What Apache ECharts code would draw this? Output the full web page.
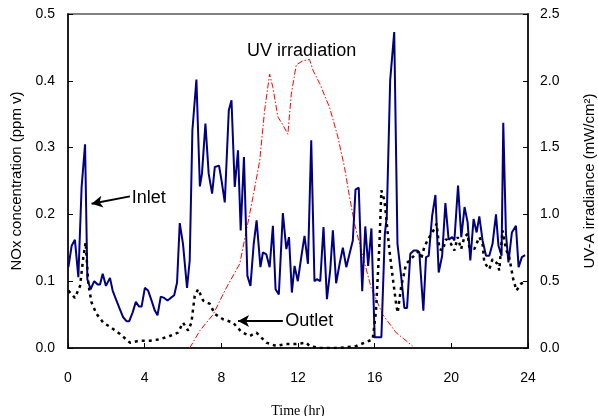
<!DOCTYPE html>
<html>
<head>
<meta charset="utf-8">
<script src="https://cdn.jsdelivr.net/npm/echarts@6/dist/echarts.min.js"></script>
<style>html,body{margin:0;padding:0;background:#fff}#c{width:598px;height:416px}</style>
</head>
<body>
<div id="c"></div>
<script>
// Time (hr) and NOx (ppm v) of the inlet
var inletT = [0.02,0.19,0.36,0.54,0.71,0.89,1.01,1.18,1.37,1.55,1.67,1.81,1.98,2.19,2.33,2.5,2.71,2.88,3.06,3.19,3.37,3.54,3.71,3.84,4.01,4.18,4.36,4.53,4.67,4.84,5.02,5.19,5.36,5.54,5.69,5.83,6.0,6.21,6.35,6.49,6.70,6.88,6.99,7.17,7.34,7.52,7.66,7.88,8.01,8.18,8.39,8.53,8.70,8.87,9.01,9.18,9.36,9.52,9.69,9.84,10.04,10.17,10.35,10.52,10.69,10.83,11.0,11.21,11.39,11.53,11.68,11.82,11.99,12.17,12.34,12.52,12.69,12.86,12.98,13.16,13.33,13.51,13.68,13.82,13.99,14.17,14.34,14.52,14.69,14.86,15.0,15.17,15.35,15.51,15.66,15.83,16.0,16.18,16.35,16.53,16.63,16.81,17.02,17.19,17.38,17.55,17.69,17.86,18.04,18.21,18.33,18.54,18.68,18.82,19.0,19.17,19.34,19.52,19.69,19.86,20.04,20.16,20.35,20.52,20.69,20.85,20.99,21.16,21.32,21.46,21.63,21.81,21.98,22.15,22.33,22.46,22.62,22.71,22.85,22.98,23.16,23.37,23.51,23.68,23.85];
var inletV = [0.121,0.153,0.162,0.106,0.241,0.305,0.103,0.088,0.100,0.095,0.095,0.111,0.093,0.105,0.086,0.073,0.058,0.046,0.040,0.040,0.053,0.069,0.062,0.062,0.090,0.086,0.071,0.056,0.049,0.077,0.075,0.071,0.075,0.079,0.098,0.187,0.156,0.090,0.131,0.326,0.402,0.242,0.261,0.336,0.261,0.231,0.271,0.273,0.251,0.218,0.356,0.371,0.241,0.296,0.176,0.286,0.108,0.093,0.156,0.191,0.121,0.143,0.140,0.121,0.183,0.088,0.080,0.202,0.148,0.166,0.083,0.123,0.100,0.136,0.168,0.126,0.311,0.100,0.103,0.100,0.181,0.073,0.116,0.176,0.097,0.126,0.150,0.121,0.141,0.161,0.237,0.240,0.085,0.182,0.123,0.179,0.016,0.016,0.016,0.171,0.196,0.401,0.473,0.156,0.108,0.060,0.060,0.141,0.146,0.146,0.143,0.056,0.136,0.138,0.198,0.229,0.113,0.138,0.217,0.162,0.166,0.161,0.243,0.166,0.211,0.188,0.131,0.193,0.173,0.197,0.161,0.138,0.138,0.156,0.200,0.153,0.138,0.337,0.171,0.128,0.173,0.183,0.121,0.136,0.139];

// Outlet NOx (ppm v)
var outletT = [0.02,0.36,0.63,0.8,0.92,1.06,1.23,1.49,1.84,2.28,2.71,3.23,3.75,4.27,4.79,5.31,5.74,6.0,6.27,6.44,6.61,6.79,7.05,7.4,7.66,8.09,8.61,9.05,9.48,9.83,10.35,10.87,11.39,11.91,12.43,12.6,13.13,14.17,15.04,15.9,16.07,16.25,16.35,16.51,16.6,16.77,16.94,17.12,17.2,17.38,17.64,17.98,18.33,18.42,18.59,18.77,19.11,19.23,19.38,19.55,19.72,19.98,20.16,20.33,20.51,20.68,20.85,20.94,21.2,21.46,21.63,21.72,21.98,22.15,22.41,22.5,22.67,22.85,23.02,23.23,23.4,23.63,23.85];
var outletV = [0.086,0.075,0.093,0.136,0.158,0.096,0.068,0.051,0.038,0.030,0.021,0.008,0.011,0.011,0.013,0.018,0.023,0.038,0.026,0.038,0.078,0.088,0.071,0.066,0.051,0.043,0.038,0.024,0.018,0.023,0.008,0.003,0.006,0.006,0.008,0.003,0.0,0.0,0.003,0.013,0.056,0.156,0.236,0.221,0.196,0.146,0.106,0.066,0.053,0.091,0.126,0.136,0.146,0.133,0.151,0.162,0.178,0.186,0.148,0.146,0.163,0.156,0.146,0.166,0.148,0.166,0.171,0.151,0.148,0.166,0.156,0.128,0.118,0.133,0.126,0.116,0.176,0.148,0.136,0.103,0.086,0.096,0.100];

// UV-A irradiance (mW/cm2)
var uvT = [6.35,6.88,7.57,8.26,8.96,9.31,9.65,10.0,10.26,10.52,10.69,10.95,11.21,11.47,11.65,11.91,12.26,12.6,12.78,13.13,13.65,14.08,14.43,14.69,14.95,15.3,15.82,16.42,17.12,17.98];
var uvV = [0,0.13,0.25,0.45,0.63,0.88,1.13,1.40,1.78,2.05,1.95,1.73,1.67,1.60,1.90,2.12,2.15,2.16,2.08,1.98,1.80,1.58,1.35,1.13,0.93,0.73,0.45,0.25,0.115,0.015];

var xTicks = [0,4,8,12,16,20,24];
var leftTicks = [0.0,0.1,0.2,0.3,0.4,0.5];
var rightTicks = [0.0,0.5,1.0,1.5,2.0,2.5];

function pairs(t, v){ return t.map(function(x,i){ return [x, v[i]]; }); }

var FONT = '"Liberation Sans", Arial, sans-serif';
var chart = echarts.init(document.getElementById('c'), null, {renderer:'canvas'});

var option = {
  animation: false,
  backgroundColor: '#fff',
  grid: { left: 68, right: 70, top: 14, bottom: 68, show: true, borderColor: '#808080', borderWidth: 2,
          containLabel: false, outerBoundsMode: 'none' },
  xAxis: {
    type: 'value', min: xTicks[0], max: xTicks[xTicks.length-1], interval: 4,
    name: 'Time (hr)', nameLocation: 'middle', nameGap: 56,
    nameTextStyle: { fontFamily: '"Liberation Serif", "Times New Roman", serif', fontSize: 14, color: '#000' },
    axisLine: { lineStyle: { color: '#000', width: 1.5 } },
    axisTick: { inside: true, length: 5, lineStyle: { color: '#000' } },
    axisLabel: { margin: 23, fontFamily: FONT, fontSize: 14, color: '#000' },
    splitLine: { show: false }
  },
  yAxis: [{
    type: 'value', min: leftTicks[0], max: leftTicks[leftTicks.length-1], interval: 0.1,
    name: 'NOx concentration (ppm v)', nameLocation: 'middle', nameGap: 37, nameRotate: 90,
    nameTextStyle: { fontFamily: FONT, fontSize: 15, color: '#000' },
    axisLine: { show: true, lineStyle: { color: '#000', width: 1.5 } },
    axisTick: { show: true, inside: true, length: 5, lineStyle: { color: '#000' } },
    axisLabel: { margin: 13, fontFamily: FONT, fontSize: 14, color: '#000', padding: [10,0,0,0],
      formatter: function(v){ return v.toFixed(1); } },
    splitLine: { show: false }
  }, {
    type: 'value', position: 'right', min: rightTicks[0], max: rightTicks[rightTicks.length-1], interval: 0.5,
    name: 'UV-A irradiance (mW/cm²)', nameLocation: 'middle', nameGap: 54, nameRotate: 90,
    nameTextStyle: { fontFamily: FONT, fontSize: 15, color: '#000' },
    axisLine: { show: true, lineStyle: { color: '#000', width: 1.5 } },
    axisTick: { show: true, inside: true, length: 5, lineStyle: { color: '#000' } },
    axisLabel: { margin: 12, fontFamily: FONT, fontSize: 14, color: '#000', padding: [9,0,0,0],
      formatter: function(v){ return v.toFixed(1); } },
    splitLine: { show: false }
  }],
  series: [{
    name: 'UV irradiation', type: 'line', yAxisIndex: 1, data: pairs(uvT, uvV),
    showSymbol: false, symbol: 'none',
    lineStyle: { color: '#ff0000', width: 1, type: [6,2,1.5,2] }, z: 2
  }, {
    name: 'Inlet', type: 'line', yAxisIndex: 0, data: pairs(inletT, inletV),
    showSymbol: false, symbol: 'none',
    lineStyle: { color: '#000080', width: 2 }, z: 3,
    markLine: {
      silent: true, symbol: ['none','arrow'], symbolSize: [9,11], animation: false,
      label: { show: false },
      lineStyle: { color: '#000', width: 2, type: 'solid' },
      data: [
        [{ coord: [3.23, 0.227] }, { coord: [1.23, 0.216] }],
        [{ coord: [11.21, 0.0405] }, { coord: [8.87, 0.0405] }]
      ]
    }
  }, {
    name: 'Outlet', type: 'line', yAxisIndex: 0, data: pairs(outletT, outletV),
    showSymbol: false, symbol: 'none',
    lineStyle: { color: '#000', width: 2.5, type: [3,4] }, z: 4
  }]
};
chart.setOption(option);

function P(t, v, ax){ return chart.convertToPixel({ xAxisIndex: 0, yAxisIndex: ax }, [t, v]); }
var pIn = P(3.33, 0.225, 0), pOut = P(11.33, 0.041, 0), pUv = P(12.19, 2.22, 1);
chart.setOption({
  graphic: [
    { type: 'text', x: pIn[0], y: pIn[1], style: { text: 'Inlet', font: '18px ' + FONT, fill: '#000', textAlign: 'left', textVerticalAlign: 'middle' } },
    { type: 'text', x: pOut[0], y: pOut[1], style: { text: 'Outlet', font: '18px ' + FONT, fill: '#000', textAlign: 'left', textVerticalAlign: 'middle' } },
    { type: 'text', x: pUv[0], y: pUv[1], style: { text: 'UV irradiation', font: '18px ' + FONT, fill: '#000', textAlign: 'center', textVerticalAlign: 'middle' } }
  ]
});
</script>
</body>
</html>
